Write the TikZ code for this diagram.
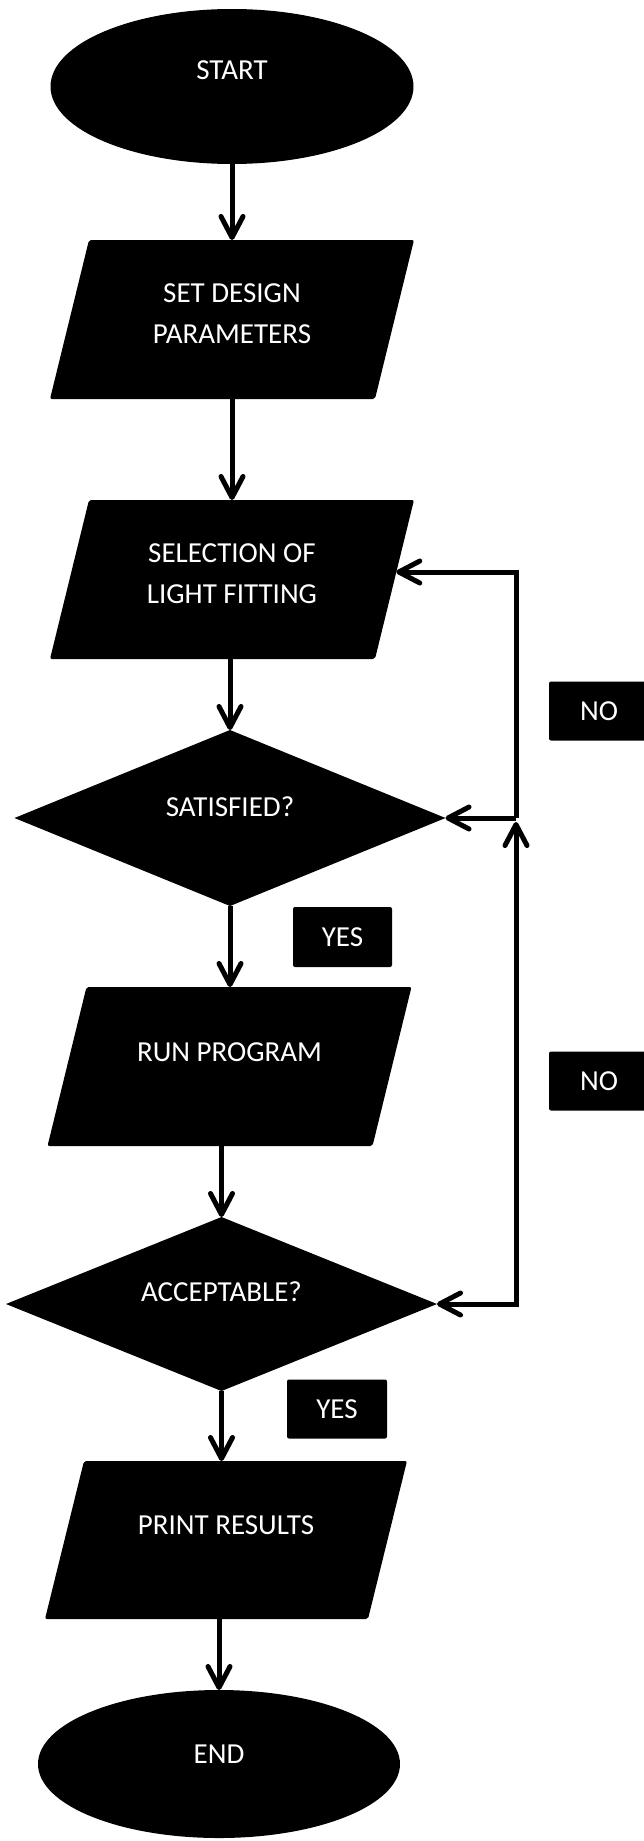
\documentclass[tikz,border=0pt]{standalone}
\usepackage{fontspec}
\setmainfont{Carlito}
\usetikzlibrary{shapes.geometric,arrows.meta,calc}
\begin{document}
\begin{tikzpicture}[x=1pt,y=-1pt,
  shapefill/.style={fill=black, draw=none, inner sep=0pt, outer sep=0pt},
  term/.style={shapefill, ellipse},
  io/.style={rectangle, draw=none, inner sep=0pt, outer sep=0pt,
    minimum width=364pt, minimum height=159pt,
    path picture={\fill[black, rounded corners=2pt]
      ([xshift=39pt]path picture bounding box.north west) --
      (path picture bounding box.north east) --
      ([xshift=-39pt]path picture bounding box.south east) --
      (path picture bounding box.south west) -- cycle;}},
  decision/.style={shapefill, diamond, minimum width=431pt},
  lbl/.style={text=white, font=\fontsize{29}{41}\selectfont, inner sep=0pt, anchor=base, align=center},
  tag/.style={fill=black, rounded corners=2pt, minimum width=100pt, minimum height=59pt,
    text=white, font=\fontsize{29}{35}\selectfont, inner sep=0pt},
  tipb/.tip={Straight Barb[length=21pt,width=22pt,round]},
  arr/.style={line width=5pt, -tipb},
  arrboth/.style={line width=5pt, tipb-tipb}
]
\useasboundingbox (0,0) rectangle (643,1841);

% shapes
\node[term, minimum width=363pt, minimum height=155pt] (start) at (232,86.5) {};
\node[lbl] (tstart) at (232,80) {START};
\node[io] (setp) at (232,319.5) {};
\node[lbl] (tsetp) at (232,343) {SET DESIGN\\PARAMETERS};
\node[io] (sel) at (232,579.5) {};
\node[lbl] (tsel) at (232,603) {SELECTION OF\\LIGHT FITTING};
\node[decision, minimum height=176pt] (sat) at (230,818) {};
\node[lbl] (tsat) at (230,816) {SATISFIED?};
\node[io] (run) at (229.5,1066.5) {};
\node[lbl] (trun) at (229.5,1061) {RUN PROGRAM};
\node[decision, minimum height=174pt] (acc) at (221.5,1304) {};
\node[lbl] (tacc) at (221.5,1301) {ACCEPTABLE?};
\node[io, minimum height=158pt, minimum width=362pt] (prn) at (226,1540) {};
\node[lbl] (tprn) at (226,1534) {PRINT RESULTS};
\node[term, minimum width=362pt, minimum height=148pt] (end) at (219,1764) {};
\node[lbl] (tend) at (219,1763) {END};

% tags
\node[tag] (no1) at (599,711) {NO};
\node[tag] (no2) at (599,1081) {NO};
\node[tag, minimum width=99pt, minimum height=60pt] (yes1) at (342.5,937) {YES};
\node[tag, minimum width=100pt, minimum height=59pt] (yes2) at (337,1409) {YES};

% main flow
\draw[arr] (start.south) -- (setp.north);
\draw[arr] (setp.south) -- (sel.north);
\draw[arr] (sat.north |- sel.south) -- (sat.north);
\draw[arr] (sat.south) -- (sat.south |- run.north);
\draw[arr] (acc.north |- run.south) -- (acc.north);
\draw[arr] (acc.south) -- (acc.south |- prn.north);
\draw[arr] (end.north |- prn.south) -- (end.north);

% feedback loop
\coordinate (lt) at (516,572);
\coordinate (lm) at (516,818);
\coordinate (lu) at (516,822);
\coordinate (lb) at (516,1304);
\coordinate (selr) at ($(sel.north east)!0.453!([xshift=-39pt]sel.south east)$);
\draw[arr] (lm) -- (lt) -- (lt -| selr);
\draw[arr] (lm) -- (sat.east);
\draw[arrboth] (lu) -- (lb) -- (acc.east);
\end{tikzpicture}
\end{document}
